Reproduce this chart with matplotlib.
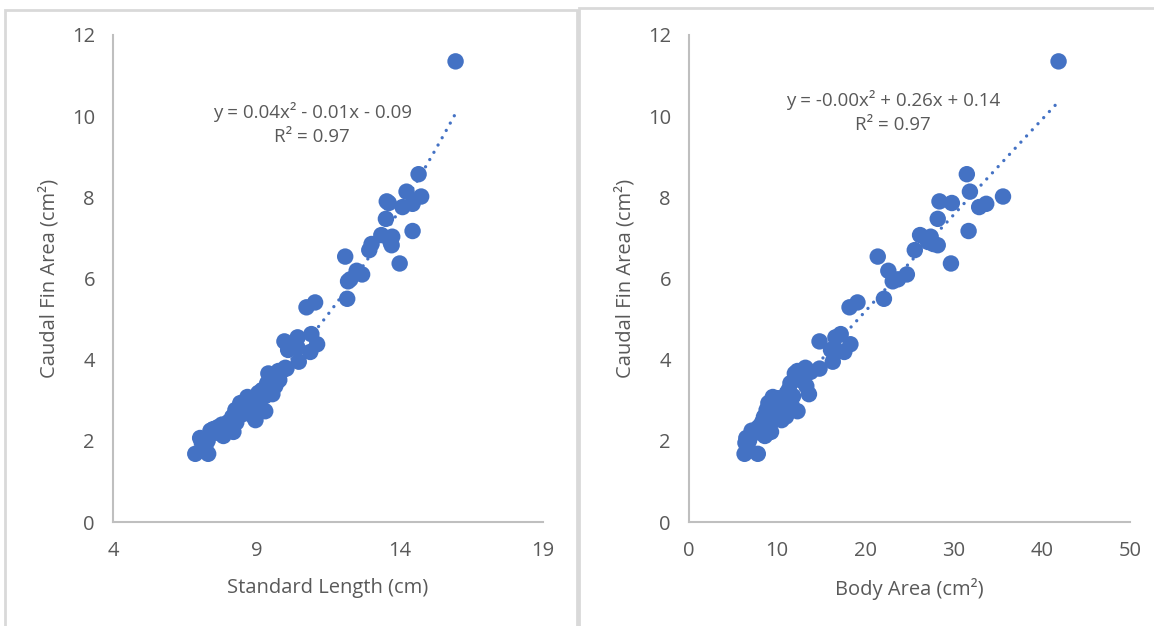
import numpy as np
import matplotlib.pyplot as plt
from matplotlib.patches import Rectangle

standard_length = [15.95, 14.66, 14.24, 14.75, 13.55, 13.62, 14.45, 14.10, 13.52, 14.45,
                   13.36, 13.74, 13.68, 13.02, 13.72, 12.94, 12.10, 14.00, 12.50, 12.69,
                   12.28, 12.20, 12.17, 11.05, 10.75, 10.92, 10.44, 9.98, 11.12, 10.88,
                   10.11, 10.44, 10.48, 10.05, 9.86, 10.01, 9.77, 9.42, 9.66, 9.38,
                   9.56, 9.07, 9.31, 8.97, 8.86, 8.69, 8.44, 8.27, 8.16, 8.02,
                   7.67, 7.50, 7.85, 8.20, 7.04, 7.22, 6.87, 7.32, 8.50, 8.80,
                   9.00, 9.20, 9.50, 8.30, 9.70, 8.60, 7.30, 7.10, 9.10, 8.90,
                   9.80, 8.10, 7.60, 9.30, 7.40, 7.80, 8.40, 8.70]
body_area = [41.9, 31.5, 31.85, 35.6, 28.4, 29.8, 33.7, 32.9, 28.2, 31.7,
             26.2, 27.4, 27.1, 27.7, 28.2, 25.6, 21.4, 29.7, 22.6, 24.7,
             23.7, 23.1, 22.1, 19.1, 18.2, 17.2, 16.6, 14.8, 18.3, 17.6,
             16.1, 16.5, 16.3, 14.8, 13.8, 13.2, 12.3, 12.0, 13.3, 11.5,
             13.6, 11.1, 12.3, 10.5, 10.1, 9.5, 9.0, 8.8, 8.5, 8.3,
             7.9, 7.7, 8.6, 9.3, 6.5, 6.6, 6.3, 7.8, 9.6, 10.3,
             10.8, 11.3, 12.2, 9.2, 12.8, 10.0, 6.8, 6.4, 11.6, 11.0,
             12.6, 8.7, 7.5, 11.8, 7.1, 8.2, 9.0, 9.8]
fin_area = [11.35, 8.57, 8.14, 8.02, 7.90, 7.86, 7.84, 7.76, 7.47, 7.17,
            7.07, 7.03, 6.90, 6.85, 6.82, 6.70, 6.54, 6.37, 6.19, 6.10,
            5.98, 5.93, 5.50, 5.41, 5.29, 4.63, 4.55, 4.45, 4.38, 4.19,
            4.24, 4.29, 3.95, 3.78, 3.70, 3.80, 3.72, 3.66, 3.35, 3.42,
            3.15, 3.18, 2.73, 2.51, 3.05, 3.08, 2.93, 2.76, 2.59, 2.46,
            2.34, 2.29, 2.12, 2.22, 2.07, 1.85, 1.68, 1.68, 2.65, 2.85,
            3.00, 3.25, 3.55, 2.45, 3.60, 2.75, 2.00, 1.95, 2.90, 2.60,
            3.50, 2.30, 2.20, 3.10, 2.25, 2.40, 2.70, 2.80]

eq_left = "y = 0.04x² - 0.01x - 0.09\nR² = 0.97"
eq_right = "y = -0.00x² + 0.26x + 0.14\nR² = 0.97"

blue = "#4472C4"
grey = "#595959"
plt.rcParams['font.family'] = ['Open Sans', 'DejaVu Sans']

fig = plt.figure(figsize=(11.54, 6.26), dpi=100)

# chart frames like the pasted Excel charts
fig.patches.append(Rectangle((5/1154, -0.01), 572/1154, 1 - 10/626 + 0.01, transform=fig.transFigure,
                             fill=False, edgecolor="#D9D9D9", linewidth=2))
fig.patches.append(Rectangle((579/1154, -0.01), 580/1154, 1 - 8/626 + 0.01, transform=fig.transFigure,
                             fill=False, edgecolor="#D9D9D9", linewidth=2))

ax1 = fig.add_axes([113/1154, 1 - 522/626, 430/1154, 487/626])
ax2 = fig.add_axes([689/1154, 1 - 522/626, 441/1154, 487/626])


def draw(ax, x, y, xlim, xticks, xlabel, eq, eq_pos):
    x = np.array(x)
    y = np.array(y)
    ax.scatter(x, y, s=140, color=blue, edgecolor="none", zorder=3)
    c = np.polyfit(x, y, 2)
    xs = np.linspace(x.min(), x.max(), 200)
    ax.plot(xs, np.polyval(c, xs), color=blue, lw=2.4, linestyle=(0, (0.01, 2.5)),
            dash_capstyle="round", zorder=2)
    ax.set_xlim(*xlim)
    ax.set_ylim(0, 12)
    ax.set_xticks(xticks)
    ax.set_yticks(range(0, 13, 2))
    for s in ["top", "right"]:
        ax.spines[s].set_visible(False)
    for s in ["left", "bottom"]:
        ax.spines[s].set_color("#BFBFBF")
        ax.spines[s].set_linewidth(1.5)
    ax.tick_params(length=0, labelsize=14.5, colors=grey, pad=14)
    ax.tick_params(axis="y", pad=13)
    ax.set_xlabel(xlabel, fontsize=14.5, color=grey, labelpad=12)
    ax.set_ylabel("Caudal Fin Area (cm²)", fontsize=14.5, color=grey, labelpad=9)
    ax.text(eq_pos[0], eq_pos[1], eq, ha="center", va="center", fontsize=13.5,
            color=grey, linespacing=1.4)


draw(ax1, standard_length, fin_area, (4, 19), [4, 9, 14, 19], "Standard Length (cm)",
     eq_left, (10.95, 9.8))
draw(ax2, body_area, fin_area, (0, 50), range(0, 51, 10), "Body Area (cm²)",
     eq_right, (23.1, 10.1))

fig.savefig("out.png", dpi=100)
